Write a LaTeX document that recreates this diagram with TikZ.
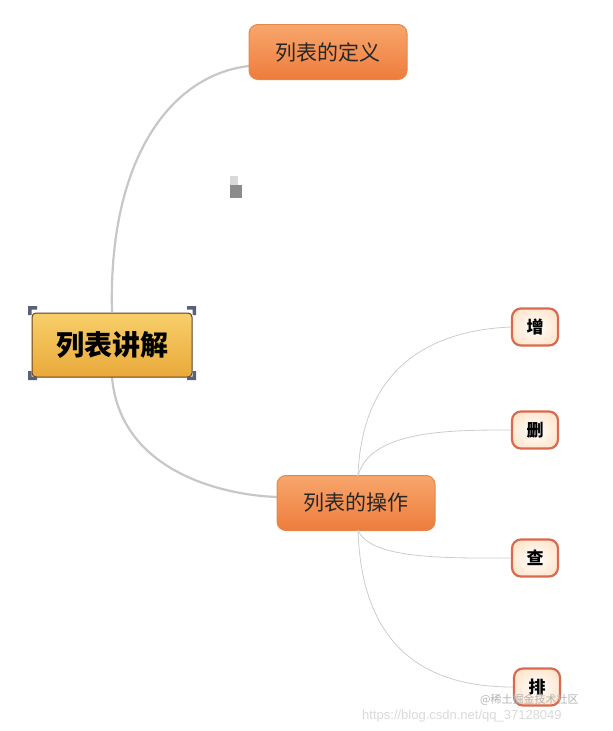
\documentclass[tikz,border=0pt]{standalone}
\usepackage{fontspec}
\newfontfamily\cjk{Noto Sans CJK SC}
\newfontfamily\lsans{Liberation Sans}
\definecolor{mainA}{HTML}{F8CF6A}
\definecolor{mainB}{HTML}{E9A93A}
\definecolor{subA}{HTML}{F8A66C}
\definecolor{subB}{HTML}{EE7C3C}
\definecolor{subD}{HTML}{E5874E}
\definecolor{leafD}{HTML}{D96A50}
\definecolor{handleC}{HTML}{5A6078}
\begin{document}
\begin{tikzpicture}[x=1pt,y=-1pt,
  main/.style={draw=black!50!brown,line width=1pt,rounded corners=4pt,top color=mainA,bottom color=mainB,minimum width=160pt,minimum height=64pt,font=\cjk\bfseries\fontsize{28}{30}\selectfont},
  sub/.style={draw=subD,line width=1pt,rounded corners=9pt,top color=subA,bottom color=subB,minimum width=158pt,minimum height=55pt,text=black!85,font=\cjk\fontsize{21}{23}\selectfont},
  leaf/.style={draw=leafD,line width=2.2pt,rounded corners=9pt,inner color=white,outer color=orange!18,minimum width=46pt,minimum height=37pt,font=\cjk\bfseries\fontsize{17}{19}\selectfont},
  thick link/.style={draw=black!22,line width=2.2pt},
  thin link/.style={draw=black!20,line width=0.8pt},
  handle/.style={fill=handleC,draw=none}]
\useasboundingbox (0,0) rectangle (613,731);
\draw[thick link] (112,312) .. controls (108,160) and (170,75) .. (249,66);
\draw[thick link] (112,377) .. controls (120,470) and (220,495) .. (277,497);
\node[main] (c) at (112,345) {列表讲解};
\foreach \px/\py/\sx/\sy in {28/306/1/1,196/306/-1/1,28/380/1/-1,196/380/-1/-1}
  \fill[handle] (\px,\py) -- ++(9*\sx,0) -- ++(0,3.5*\sy) -- ++(-5.5*\sx,0) -- ++(0,5.5*\sy) -- ++(-3.5*\sx,0) -- cycle;
\node[sub] (d) at (328,52) {列表的定义};
\node[sub] (o) at (356,503) {列表的操作};
\node[leaf] (z) at (535,327) {增};
\node[leaf] (s) at (535,430) {删};
\node[leaf] (q) at (535,558) {查};
\node[leaf] (p) at (537,687) {排};
\draw[thin link] (358,476) .. controls (362,360) and (440,330) .. (z.west);
\draw[thin link] (358,476) .. controls (370,430) and (450,430) .. (s.west);
\draw[thin link] (358,530) .. controls (370,560) and (450,558) .. (q.west);
\draw[thin link] (358,530) .. controls (362,660) and (440,687) .. (p.west);
\fill[black!45] (230,185) rectangle (242,198);
\fill[black!15] (230,176) rectangle (238,185);
\node[text=black!30,font=\cjk\fontsize{11}{12}\selectfont,anchor=west,inner sep=0pt] (w1) at (480,700) {@稀土掘金技术社区};
\node[text=black!15,font=\lsans\fontsize{13}{14}\selectfont,anchor=west,inner sep=0pt] (w2) at (362,716) {https://blog.csdn.net/qq\_37128049};
\end{tikzpicture}
\end{document}
